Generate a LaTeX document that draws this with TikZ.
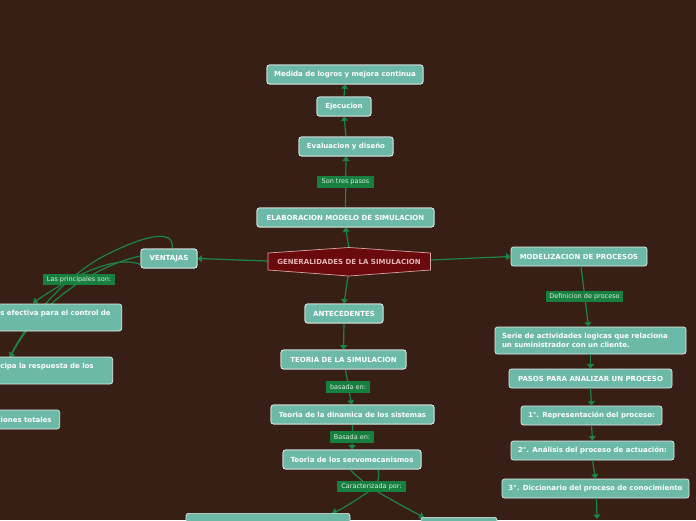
\documentclass[tikz,border=0pt]{standalone}
\usepackage{fontspec}
\setmainfont{DejaVu Sans}
\usetikzlibrary{arrows.meta}
\definecolor{bg}{HTML}{381F15}
\definecolor{boxfill}{HTML}{6BB9A6}
\definecolor{boxline}{HTML}{E6EDEA}
\definecolor{lblfill}{HTML}{17803F}
\definecolor{lbltext}{HTML}{DCEBDF}
\definecolor{conncol}{HTML}{1A8547}
\definecolor{genfill}{HTML}{6A0A0C}
\definecolor{genline}{HTML}{D9A3A3}
\definecolor{gentext}{HTML}{E8B5B5}
\tikzset{
  box/.style={draw=boxline, line width=0.7pt, fill=boxfill, rounded corners=2.5pt, text=white,
    font=\fontsize{7}{9}\selectfont\bfseries, inner sep=0pt, minimum height=19pt},
  lbl/.style={fill=lblfill, text=lbltext, font=\fontsize{6.5}{7.5}\selectfont, inner sep=0pt, minimum height=11.5pt},
  conn/.style={draw=conncol, line width=1.2pt, -{Triangle[width=7pt,length=4.5pt]}}
}
\begin{document}
\begin{tikzpicture}[x=1pt,y=-1pt]
\fill[bg] (0,0) rectangle (696,520);
\useasboundingbox (0,0) rectangle (696,520);
\clip (0,0) rectangle (696,520);

% ---------- named nodes ----------
\path
  (345,74.5) node[box, minimum width=156pt] (med) {Medida de logros y mejora continua}
  (344,106.5) node[box, minimum width=54pt] (eje) {Ejecucion}
  (346,146.5) node[box, minimum width=94pt] (eva) {Evaluacion y diseño}
  (345.5,217.5) node[box, minimum width=177pt] (elab) {ELABORACION MODELO DE SIMULACION}
  (169,258.5) node[box, minimum width=56pt] (ven) {VENTAJAS}
  (344,313.5) node[box, minimum width=78pt] (ant) {ANTECEDENTES}
  (343.5,359.5) node[box, minimum width=125pt] (teo) {TEORIA DE LA SIMULACION}
  (352.5,414.5) node[box, minimum width=163pt] (din) {Teoria de la dinamica de los sistemas}
  (352,459.5) node[box, minimum width=138pt] (servo) {Teoria de los servomecanismos}
  (579,256.5) node[box, minimum width=136pt] (mod) {MODELIZACION DE PROCESOS}
  (590.5,340.5) node[box, minimum width=191pt, minimum height=27pt, text width=177pt, align=left] (serie)
     {Serie de actividades logicas que relaciona\\un suministrador con un cliente.}
  (590.5,378.5) node[box, minimum width=163pt] (pasos) {PASOS PARA ANALIZAR UN PROCESO}
  (591.5,415.5) node[box, minimum width=141pt] (p1) {1°. Representación del proceso:}
  (592.5,450.5) node[box, minimum width=163pt] (p2) {2°. Análisis del proceso de actuación:}
  (595.5,488.5) node[box, minimum width=187pt] (p3) {3°. Diccionario del proceso de conocimiento};

\coordinate (p4) at (597,519);
\coordinate (gen) at (349,261.5);

% ---------- connectors ----------
\draw[conn] (349,248) -- (elab.south);
\draw[conn] (elab.north) -- (eva.south);
\draw[conn] (eva.north) -- (eje.south);
\draw[conn] (eje.north) -- (med.south);
\draw[conn] (267.5,261) -- (ven.east);
\draw[conn] (430.5,260) -- (mod.west);
\draw[conn] (348,276) -- (ant.north);
\draw[conn] (ant.south) -- (teo.north);
\draw[conn] ([xshift=2pt]teo.south) -- ([xshift=-1pt]din.north);
\draw[conn] (din.south) -- (servo.north);
\draw[conn] ([xshift=2pt]mod.south) -- ([xshift=-2pt]serie.north);
\draw[conn] (serie.south) -- (pasos.north);
\draw[conn] (pasos.south) -- (p1.north);
\draw[conn] (p1.south) -- (p2.north);
\draw[conn] (p2.south) -- (p3.north);
\draw[conn] ([xshift=1pt]p3.south) -- (p4);

% left branch (VENTAJAS)
\coordinate (t1) at (33,303);
\coordinate (t2) at (10,357.5);
\coordinate (t3) at (-12,411);
\draw[conn] ([yshift=-6pt]ven.west) .. controls (112,253) and (62,283) .. (t1);
\draw[conn] ([yshift=2.5pt]ven.west) .. controls (100,264) and (40,300) .. (t2);
\draw[conn] ([xshift=3pt]ven.north) .. controls (175,230) and (150,232) .. (100,258) .. controls (50,288) and (10,340) .. (t3);

% bottom branch (servomecanismos)
\draw[conn] ([xshift=26pt]servo.south) .. controls (382,482) and (372,490) .. (362,496) .. controls (350,504) and (340,510) .. (332,513);
\draw[conn] ([xshift=-2pt]servo.south) .. controls (358,478) and (366,484) .. (378,492) .. controls (395,502) and (410,510) .. (424,517.5);

% ---------- nodes drawn over connectors ----------
\path
  (122,317.5) node[box, anchor=east, minimum height=27pt, text width=180pt, inner xsep=11pt, align=right] (v1)
     {s efectiva para el control de\\\mbox{}}
  (113,370.5) node[box, anchor=east, minimum height=27pt, text width=180pt, inner xsep=19pt, align=right] (v2)
     {cipa la respuesta de los\\\mbox{}}
  (60,419.5) node[box, anchor=east, text width=120pt, inner xsep=8pt, align=right] (v3) {ciones totales}
  (268,513) node[box, anchor=north, minimum width=164pt, minimum height=20pt] (bl) {}
  (459,517) node[box, anchor=north, minimum width=76pt, minimum height=20pt] (br) {};

% redraw the nodes that connectors overlap
\path
  (345,74.5) node[box, minimum width=156pt] {Medida de logros y mejora continua}
  (344,106.5) node[box, minimum width=54pt] {Ejecucion}
  (346,146.5) node[box, minimum width=94pt] {Evaluacion y diseño}
  (345.5,217.5) node[box, minimum width=177pt] {ELABORACION MODELO DE SIMULACION}
  (169,258.5) node[box, minimum width=56pt] {VENTAJAS}
  (344,313.5) node[box, minimum width=78pt] {ANTECEDENTES}
  (343.5,359.5) node[box, minimum width=125pt] {TEORIA DE LA SIMULACION}
  (352.5,414.5) node[box, minimum width=163pt] {Teoria de la dinamica de los sistemas}
  (352,459.5) node[box, minimum width=138pt] {Teoria de los servomecanismos};

% central hexagon
\draw[fill=genfill, draw=genline, line width=0.7pt]
  (268,253) -- (349,247.5) -- (430.5,253) -- (430.5,270) -- (349,276) -- (268,270) -- cycle;
\node[text=gentext, font=\fontsize{7}{8}\selectfont\bfseries] (gentxt) at (gen) {GENERALIDADES DE LA SIMULACION};

% labels
\node[lbl, minimum width=57pt] (l1) at (345.5,182) {Son tres pasos};
\node[lbl, minimum width=72pt] (l2) at (79,279.5) {Las principales son:};
\node[lbl, minimum width=44pt] (l3) at (348,387) {basada en:};
\node[lbl, minimum width=44pt] (l4) at (352,437) {Basada en:};
\node[lbl, minimum width=69pt] (l5) at (371.5,486.5) {Caracterizada por:};
\node[lbl, minimum width=77pt] (l6) at (584.5,296.5) {Definicion de proceso};
\end{tikzpicture}
\end{document}
